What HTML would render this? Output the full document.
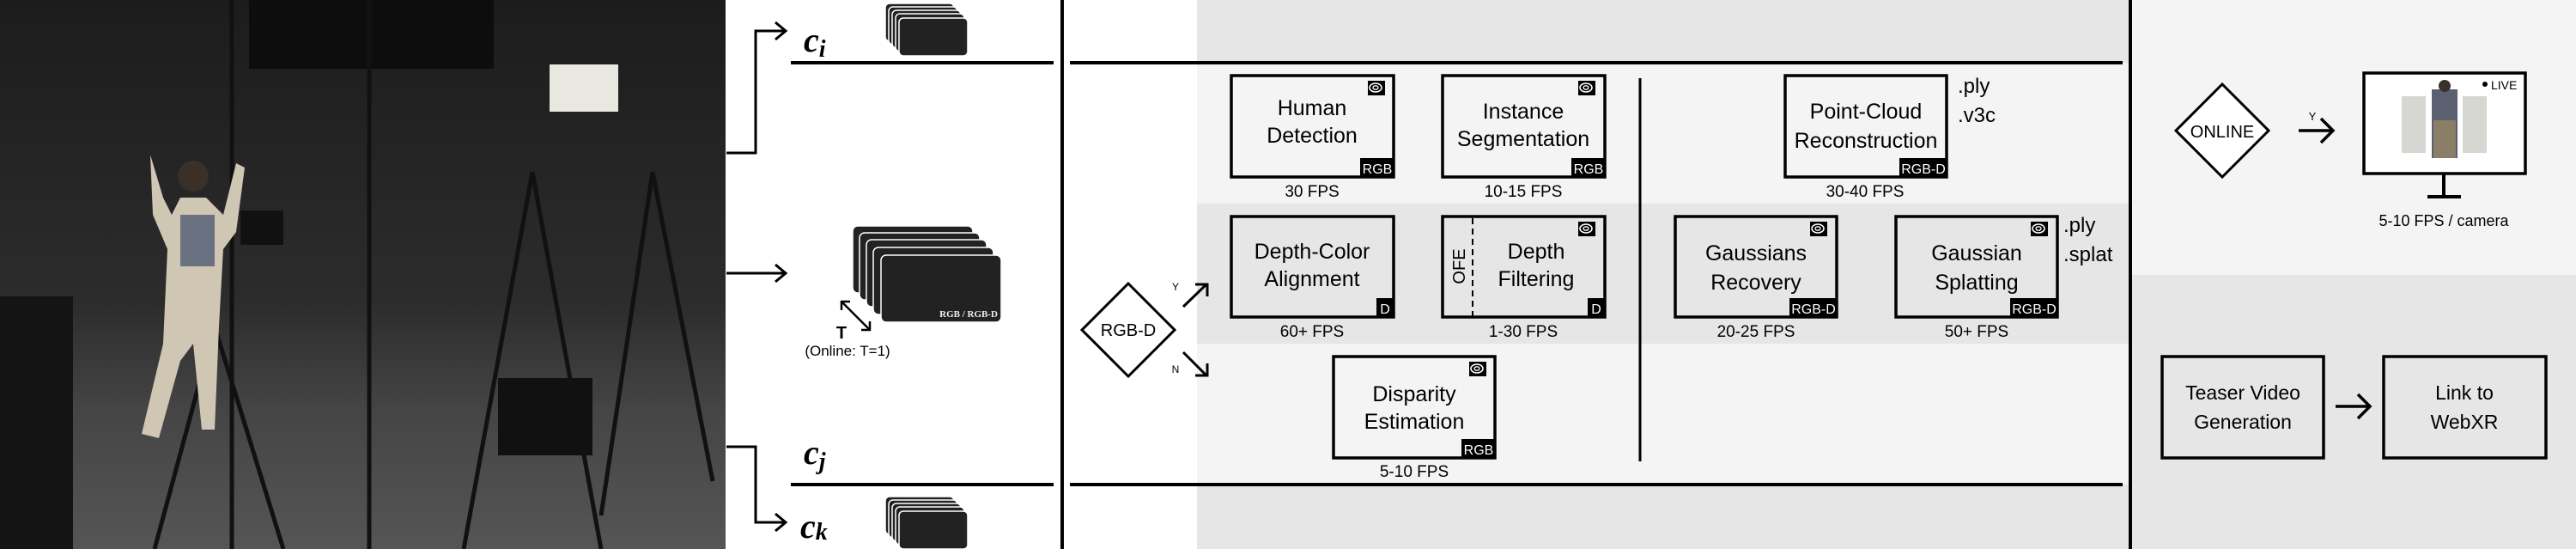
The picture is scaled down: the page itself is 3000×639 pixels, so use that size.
<!DOCTYPE html>
<html><head><meta charset="utf-8"><style>
html,body{margin:0;padding:0;background:#fff;}
svg{display:block;}
</style></head><body>
<svg width="3000" height="639" viewBox="0 0 3000 639" xmlns="http://www.w3.org/2000/svg" font-family="Liberation Sans, sans-serif">
<defs>
<linearGradient id="ph" x1="0" y1="0" x2="0" y2="1">
<stop offset="0" stop-color="#1c1c1c"/><stop offset="0.55" stop-color="#2c2c2c"/><stop offset="0.75" stop-color="#454545"/><stop offset="1" stop-color="#555"/>
</linearGradient>
<g id="nv"><rect x="0" y="0" width="20" height="17" fill="#000"/><ellipse cx="9" cy="8" rx="7" ry="5" fill="none" stroke="#fff" stroke-width="1.6"/><ellipse cx="9" cy="8" rx="3" ry="2.2" fill="none" stroke="#fff" stroke-width="1.3"/></g>
</defs>
<!-- photo -->
<rect x="0" y="0" width="845" height="639" fill="url(#ph)"/>
<rect x="290" y="0" width="285" height="80" fill="#0d0d0d"/>
<rect x="640" y="75" width="80" height="55" fill="#e8e8e0"/>
<rect x="0" y="345" width="85" height="294" fill="#141414"/>
<g stroke="#111" stroke-width="5" fill="none">
<line x1="430" y1="0" x2="430" y2="639"/><line x1="270" y1="0" x2="270" y2="639"/>
<line x1="620" y1="200" x2="540" y2="639"/><line x1="620" y1="200" x2="700" y2="639"/>
<line x1="760" y1="200" x2="700" y2="600"/><line x1="760" y1="200" x2="830" y2="560"/>
<line x1="250" y1="380" x2="180" y2="639"/><line x1="250" y1="380" x2="330" y2="639"/>
</g>
<rect x="580" y="440" width="110" height="90" fill="#111"/>
<rect x="280" y="245" width="50" height="40" fill="#111"/>
<path d="M175 180 L190 230 L200 250 L210 230 L240 230 L260 250 L275 190 L285 195 L275 270 L260 290 L255 380 L250 500 L235 500 L225 400 L210 420 L185 510 L165 505 L190 400 L195 290 L178 250 Z" fill="#cfc6b4"/>
<rect x="210" y="250" width="40" height="60" fill="#6a7180"/>
<circle cx="225" cy="205" r="18" fill="#3a3028"/>
<!-- left panel -->
<g stroke="#000" stroke-width="3" fill="none">
<polyline points="846,178 880,178 880,36 915,36"/><polyline points="903,26 915,36 903,46"/>
<line x1="846" y1="318" x2="915" y2="318"/><polyline points="903,308 915,318 903,328"/>
<polyline points="846,520 880,520 880,608 915,608"/><polyline points="903,598 915,608 903,618"/>
<line x1="921" y1="73" x2="1227" y2="73" stroke-width="4"/>
<line x1="921" y1="564" x2="1227" y2="564" stroke-width="4"/>
<line x1="1237" y1="0" x2="1237" y2="639" stroke-width="4"/>
</g>
<g style="font-family:'Liberation Serif',serif;font-style:italic;font-weight:bold;font-size:40px">
<text x="936" y="60">c<tspan style="font-size:28px" dy="6">i</tspan></text>
<text x="936" y="540">c<tspan style="font-size:28px" dy="6">j</tspan></text>
<text x="932" y="626">c<tspan style="font-size:28px" dy="2">k</tspan></text>
</g>
<g fill="#222" stroke="#fff" stroke-width="1.5">
<rect x="1031" y="4" width="80" height="44" rx="5"/><rect x="1035" y="8" width="80" height="44" rx="5"/><rect x="1039" y="12" width="80" height="44" rx="5"/><rect x="1043" y="16" width="80" height="44" rx="5"/><rect x="1047" y="21" width="80" height="44" rx="5"/>
<rect x="1031" y="578" width="80" height="44" rx="5"/><rect x="1035" y="582" width="80" height="44" rx="5"/><rect x="1039" y="586" width="80" height="44" rx="5"/><rect x="1043" y="590" width="80" height="44" rx="5"/><rect x="1047" y="595" width="80" height="44" rx="5"/>
<rect x="993" y="263" width="140" height="78" rx="6"/><rect x="1001" y="271" width="140" height="78" rx="6"/><rect x="1009" y="279" width="140" height="78" rx="6"/><rect x="1017" y="288" width="140" height="78" rx="6"/><rect x="1026" y="297" width="140" height="78" rx="6"/>
</g>
<text x="1162" y="369" text-anchor="end" fill="#eee" style="font-family:'Liberation Serif',serif;font-weight:bold;font-size:11px">RGB / RGB-D</text>
<g stroke="#000" stroke-width="2.5" fill="none"><line x1="980" y1="351" x2="1013" y2="384"/><polyline points="980,361 980,351 990,351"/><polyline points="1003,384 1013,384 1013,374"/></g>
<text x="980" y="394" text-anchor="middle" font-weight="bold" font-size="20">T</text>
<text x="987" y="414" text-anchor="middle" font-size="17">(Online: T=1)</text>
<!-- middle backgrounds -->
<rect x="1394" y="0" width="1086" height="73" fill="#e6e6e6"/>
<rect x="1394" y="73" width="1086" height="164" fill="#f4f4f4"/>
<rect x="1394" y="237" width="1086" height="163" fill="#e6e6e6"/>
<rect x="1394" y="400" width="1086" height="164" fill="#f4f4f4"/>
<rect x="1394" y="564" width="1086" height="75" fill="#e6e6e6"/>
<g stroke="#000" fill="none">
<line x1="1246" y1="73" x2="2472" y2="73" stroke-width="4"/>
<line x1="1246" y1="564" x2="2472" y2="564" stroke-width="4"/>
<line x1="1910" y1="91" x2="1910" y2="537" stroke-width="3"/>
<line x1="2481" y1="0" x2="2481" y2="639" stroke-width="4"/>
<polygon points="1314,330 1368,384 1314,438 1260,384" stroke-width="3" fill="#fff"/>
<line x1="1378" y1="357" x2="1405" y2="331" stroke-width="3"/><polyline points="1392,331 1406,331 1406,345" stroke-width="3"/>
<line x1="1378" y1="410" x2="1405" y2="437" stroke-width="3"/><polyline points="1392,437 1406,437 1406,423" stroke-width="3"/>
</g>
<text x="1314" y="391" text-anchor="middle" font-size="20">RGB-D</text>
<text x="1369" y="338" text-anchor="middle" font-size="12">Y</text>
<text x="1369" y="434" text-anchor="middle" font-size="12">N</text>
<!-- boxes -->
<g stroke="#000" stroke-width="3.5" fill="none">
<rect x="1434" y="88" width="189" height="118"/><rect x="1680" y="88" width="189" height="118"/>
<rect x="1434" y="252" width="189" height="117"/><rect x="1680" y="252" width="189" height="117"/>
<rect x="1553" y="415" width="188" height="118"/>
<rect x="2079" y="88" width="188" height="118"/>
<rect x="1951" y="252" width="188" height="117"/><rect x="2208" y="252" width="188" height="117"/>
</g>
<line x1="1715" y1="254" x2="1715" y2="368" stroke="#000" stroke-width="2" stroke-dasharray="7,5"/>
<g fill="#000">
<rect x="1584" y="184" width="40" height="23"/><rect x="1830" y="184" width="40" height="23"/>
<rect x="1603" y="347" width="21" height="23"/><rect x="1849" y="347" width="21" height="23"/>
<rect x="1702" y="511" width="40" height="23"/>
<rect x="2212" y="184" width="56" height="23"/><rect x="2084" y="347" width="56" height="23"/><rect x="2341" y="347" width="56" height="23"/>
</g>
<g fill="#fff" font-size="16" text-anchor="middle">
<text x="1604" y="202">RGB</text><text x="1850" y="202">RGB</text>
<text x="1613" y="365">D</text><text x="1859" y="365">D</text>
<text x="1722" y="529">RGB</text>
<text x="2240" y="202">RGB-D</text><text x="2112" y="365">RGB-D</text><text x="2369" y="365">RGB-D</text>
</g>
<use href="#nv" x="1593" y="94"/><use href="#nv" x="1838" y="94"/><use href="#nv" x="1838" y="258"/><use href="#nv" x="1711" y="421"/><use href="#nv" x="2108" y="258"/><use href="#nv" x="2365" y="258"/>
<g font-size="25" text-anchor="middle">
<text x="1528" y="134">Human</text><text x="1528" y="166">Detection</text>
<text x="1774" y="138">Instance</text><text x="1774" y="170">Segmentation</text>
<text x="1528" y="301">Depth-Color</text><text x="1528" y="333">Alignment</text>
<text x="1789" y="301">Depth</text><text x="1789" y="333">Filtering</text>
<text x="1647" y="467">Disparity</text><text x="1647" y="499">Estimation</text>
<text x="2173" y="138">Point-Cloud</text><text x="2173" y="172">Reconstruction</text>
<text x="2045" y="303">Gaussians</text><text x="2045" y="337">Recovery</text>
<text x="2302" y="303">Gaussian</text><text x="2302" y="337">Splatting</text>
</g>
<text transform="translate(1706,310) rotate(-90)" text-anchor="middle" font-size="20">OFE</text>
<g font-size="19" text-anchor="middle">
<text x="1528" y="229">30 FPS</text><text x="1774" y="229">10-15 FPS</text>
<text x="1528" y="392">60+ FPS</text><text x="1774" y="392">1-30 FPS</text>
<text x="1647" y="555">5-10 FPS</text>
<text x="2172" y="229">30-40 FPS</text><text x="2045" y="392">20-25 FPS</text><text x="2302" y="392">50+ FPS</text>
</g>
<g font-size="24">
<text x="2280" y="108">.ply</text><text x="2280" y="142">.v3c</text>
<text x="2403" y="270">.ply</text><text x="2403" y="304">.splat</text>
</g>
<!-- right panel -->
<rect x="2483" y="0" width="517" height="320" fill="#f4f4f4"/>
<rect x="2483" y="320" width="517" height="319" fill="#e6e6e6"/>
<g stroke="#000" stroke-width="3.5" fill="none">
<polygon points="2588,98 2642,152 2588,206 2534,152" fill="#fff" stroke-width="3"/>
<line x1="2677" y1="152" x2="2717" y2="152"/><polyline points="2703,138 2717,152 2703,166"/>
<rect x="2753" y="85" width="188" height="117" fill="#fff"/>
<line x1="2846" y1="202" x2="2846" y2="229" stroke-width="4"/><line x1="2827" y1="229" x2="2866" y2="229" stroke-width="4"/>
<rect x="2518" y="415" width="188" height="118"/><rect x="2776" y="415" width="189" height="118"/>
<line x1="2720" y1="473" x2="2760" y2="473"/><polyline points="2746,459 2760,473 2746,487"/>
</g>
<g opacity="0.4"><rect x="2797" y="112" width="28" height="66" fill="#9a9a90"/><rect x="2868" y="112" width="28" height="66" fill="#9a9a90"/></g>
<rect x="2832" y="104" width="30" height="80" fill="#5a6070"/><rect x="2834" y="140" width="26" height="44" fill="#8b7e66"/><circle cx="2847" cy="100" r="7" fill="#3a3028"/>
<circle cx="2894" cy="98" r="3" fill="#000"/>
<text x="2901" y="104" font-size="14">LIVE</text>
<text x="2588" y="160" text-anchor="middle" font-size="20">ONLINE</text>
<text x="2693" y="140" text-anchor="middle" font-size="13">Y</text>
<text x="2846" y="263" text-anchor="middle" font-size="18">5-10 FPS / camera</text>
<text x="2612" y="465" text-anchor="middle" font-size="23">Teaser Video</text><text x="2612" y="499" text-anchor="middle" font-size="23">Generation</text>
<text x="2870" y="465" text-anchor="middle" font-size="23">Link to</text><text x="2870" y="499" text-anchor="middle" font-size="23">WebXR</text>
</svg>
</body></html>
